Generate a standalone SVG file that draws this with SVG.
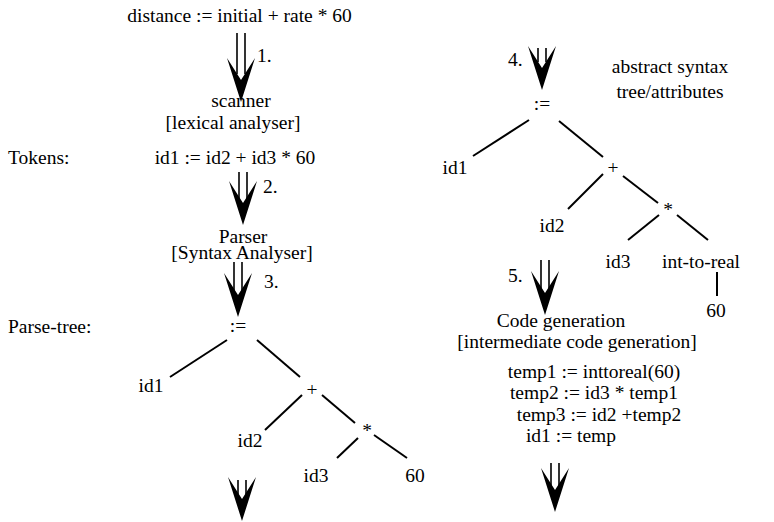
<svg xmlns="http://www.w3.org/2000/svg" width="774" height="522" viewBox="0 0 774 522">
  <style>
    text { font-family: "Liberation Serif", "Times New Roman", serif; font-size: 19.5px; fill: #000; }
    .c { text-anchor: middle; }
    .edge { stroke: #000; stroke-width: 2; fill: none; }
    .shaft { stroke: #000; stroke-width: 1.6; }
  </style>
  <defs>
    <!-- dart-shaped arrow head, tip at origin -->
    <polygon id="head" points="-14,-44 0,-22 14,-44 0,0" fill="#000"/>
  </defs>
  <rect width="774" height="522" fill="#fff"/>

  <!-- phase arrows: double shaft + dart head -->
  <g id="flow-arrows">
    <g id="arrow1">
      <line class="shaft" x1="237" y1="33" x2="237" y2="74"/>
      <line class="shaft" x1="245" y1="33" x2="245" y2="74"/>
      <use href="#head" x="241" y="102"/>
    </g>
    <g id="arrow2">
      <line class="shaft" x1="239" y1="172" x2="239" y2="199"/>
      <line class="shaft" x1="247" y1="172" x2="247" y2="199"/>
      <use href="#head" x="243" y="225"/>
    </g>
    <g id="arrow3">
      <line class="shaft" x1="234" y1="262" x2="234" y2="291"/>
      <line class="shaft" x1="242" y1="262" x2="242" y2="291"/>
      <use href="#head" x="238" y="317"/>
    </g>
    <g id="arrow4">
      <line class="shaft" x1="538" y1="48" x2="538" y2="62"/>
      <line class="shaft" x1="546" y1="48" x2="546" y2="62"/>
      <use href="#head" x="542" y="90"/>
    </g>
    <g id="arrow5">
      <line class="shaft" x1="541" y1="260" x2="541" y2="289"/>
      <line class="shaft" x1="549" y1="260" x2="549" y2="289"/>
      <use href="#head" x="545" y="315"/>
    </g>
    <g id="arrow6">
      <line class="shaft" x1="238" y1="480" x2="238" y2="494"/>
      <line class="shaft" x1="246" y1="480" x2="246" y2="494"/>
      <use href="#head" x="242" y="521"/>
    </g>
    <g id="arrow7">
      <line class="shaft" x1="551" y1="463" x2="551" y2="486"/>
      <line class="shaft" x1="559" y1="463" x2="559" y2="486"/>
      <use href="#head" x="555" y="512"/>
    </g>
  </g>

  <!-- tree edges -->
  <g id="connectors">
    <line class="edge" x1="227" y1="340" x2="170" y2="377"/>
    <line class="edge" x1="257" y1="340" x2="300" y2="377"/>
    <line class="edge" x1="302" y1="395" x2="265" y2="430"/>
    <line class="edge" x1="322" y1="395" x2="355" y2="423"/>
    <line class="edge" x1="358" y1="438" x2="337" y2="458"/>
    <line class="edge" x1="374" y1="435" x2="407" y2="458"/>

    <line class="edge" x1="529" y1="120" x2="473" y2="156"/>
    <line class="edge" x1="559" y1="121" x2="603" y2="157"/>
    <line class="edge" x1="603" y1="174" x2="568" y2="209"/>
    <line class="edge" x1="623" y1="176" x2="658" y2="203"/>
    <line class="edge" x1="659" y1="215" x2="628" y2="240"/>
    <line class="edge" x1="677" y1="215" x2="708" y2="240"/>
    <line class="edge" x1="717" y1="272" x2="717" y2="296"/>
  </g>

  <!-- left column: phases -->
  <g id="source"><text class="c" x="239.5" y="22">distance := initial + rate * 60</text></g>
  <g id="step1"><text x="257" y="62">1.</text></g>
  <g id="scanner">
    <text class="c" x="241" y="107">scanner</text>
    <text class="c" x="233" y="129">[lexical analyser]</text>
  </g>
  <g id="tokens-label"><text x="8" y="164">Tokens:</text></g>
  <g id="tokens"><text class="c" x="235" y="164">id1 := id2 + id3 * 60</text></g>
  <g id="step2"><text x="263" y="193">2.</text></g>
  <g id="parser">
    <text class="c" x="243" y="243">Parser</text>
    <text class="c" x="242" y="259">[Syntax Analyser]</text>
  </g>
  <g id="step3"><text x="264" y="288">3.</text></g>
  <g id="parse-tree-label"><text x="8" y="333">Parse-tree:</text></g>

  <!-- parse tree -->
  <g id="p-assign"><text class="c" x="238" y="332">:=</text></g>
  <g id="p-id1"><text class="c" x="151" y="392">id1</text></g>
  <g id="p-plus"><text class="c" x="312" y="396">+</text></g>
  <g id="p-id2"><text class="c" x="250" y="447">id2</text></g>
  <g id="p-times"><text class="c" x="367" y="437">*</text></g>
  <g id="p-id3"><text class="c" x="316" y="482">id3</text></g>
  <g id="p-60"><text class="c" x="415" y="482">60</text></g>

  <!-- right column -->
  <g id="step4"><text x="508" y="66">4.</text></g>
  <g id="ast-label">
    <text class="c" x="670" y="73">abstract syntax</text>
    <text class="c" x="670" y="98">tree/attributes</text>
  </g>
  <g id="a-assign"><text class="c" x="542" y="110">:=</text></g>
  <g id="a-id1"><text class="c" x="455" y="174">id1</text></g>
  <g id="a-plus"><text class="c" x="613" y="174">+</text></g>
  <g id="a-id2"><text class="c" x="552" y="232">id2</text></g>
  <g id="a-times"><text class="c" x="668" y="216">*</text></g>
  <g id="a-id3"><text class="c" x="618" y="268">id3</text></g>
  <g id="a-inttoreal"><text class="c" x="701" y="268">int-to-real</text></g>
  <g id="a-60"><text class="c" x="716" y="317">60</text></g>

  <g id="step5"><text x="508" y="282">5.</text></g>
  <g id="codegen">
    <text class="c" x="561" y="327">Code generation</text>
    <text class="c" x="577" y="348">[intermediate code generation]</text>
  </g>
  <g id="tac">
    <text class="c" x="594" y="378">temp1 := inttoreal(60)</text>
    <text class="c" x="594" y="399">temp2 := id3 * temp1</text>
    <text class="c" x="599" y="421">temp3 := id2 +temp2</text>
    <text class="c" x="571" y="442">id1 := temp</text>
  </g>
</svg>
